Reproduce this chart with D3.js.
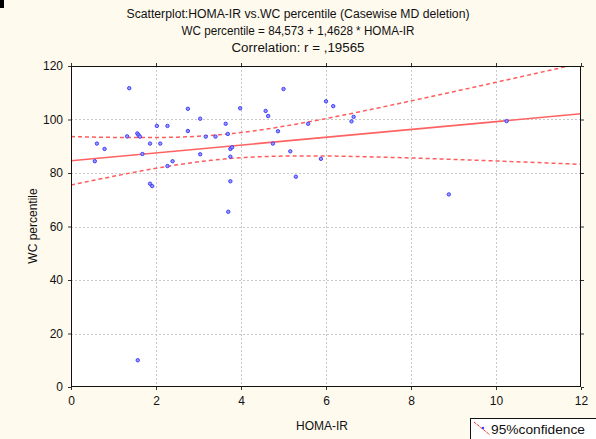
<!DOCTYPE html>
<html><head><meta charset="utf-8">
<script src="https://cdn.jsdelivr.net/npm/d3@7"></script>
<style>
body{margin:0;background:#fffaee;}
svg{display:block;font-family:"Liberation Sans",Arial,sans-serif;}
</style></head>
<body>
<svg id="c" width="596" height="439"></svg>
<script>
// ---- data ----
const homaIR = [1.37,2.02,2.27,1.32,1.56,1.59,1.62,0.61,0.79,1.86,2.10,0.56,1.68,2.27,1.86,1.91,
  2.75,2.75,3.04,3.17,3.40,3.64,3.69,3.75,3.79,3.75,3.98,3.04,2.39,4.58,4.64,3.75,4.75,5.00,
  6.00,6.17,6.60,6.65,5.58,4.87,5.16,5.88,5.29,10.25,8.89,1.57,3.70];
const wcPercentile = [111.7,97.6,97.6,93.7,94.8,94.2,93.6,91.0,89.0,91.0,91.0,84.4,87.1,82.6,76.0,75.1,
  104.0,95.7,100.3,93.6,93.6,98.4,94.6,89.0,89.6,86.1,104.2,87.0,84.4,103.2,101.3,76.9,91.0,111.4,
  106.8,105.0,99.3,101.0,98.4,95.6,88.1,85.3,78.6,99.4,72.0,10.0,65.5];
const xTicks = [0,2,4,6,8,10,12];
const yTicks = [0,20,40,60,80,100,120];
const titleLines = ["Scatterplot:HOMA-IR vs.WC percentile (Casewise MD deletion)",
  "WC percentile = 84,573 + 1,4628 * HOMA-IR",
  "Correlation: r = ,19565"];
const intercept = 84.573, slope = 1.4628;
// 95% confidence band half-width parameters: hw^2 = bandA + bandB*(x-bandM)^2
const bandA = 21.3, bandB = 4.73, bandM = 3.58;
const bandX = d3.range(0, 12.0001, 0.1);

// ---- layout ----
const svg = d3.select("#c");
const L = 71, R = 581, T = 66, B = 387;
const x = d3.scaleLinear().domain([0,12]).range([L,R]);
const y = d3.scaleLinear().domain([0,120]).range([B,T]);

svg.append("rect").attr("x",0).attr("y",0).attr("width",4).attr("height",8).attr("fill","#000");

// titles
const tw = [343, 233, 133];
titleLines.forEach((t,i)=>{
  svg.append("text").attr("x",298).attr("y",18+i*17).attr("text-anchor","middle")
    .attr("font-size",12).attr("fill","#111").attr("textLength",tw[i]).attr("lengthAdjust","spacingAndGlyphs").text(t);
});

// plot background
svg.append("rect").attr("x",L).attr("y",T).attr("width",R-L).attr("height",B-T).attr("fill","#fff");

// grid
const g = svg.append("g");
g.selectAll(".gx").data(xTicks.slice(1,-1)).join("line")
  .attr("x1",d=>x(d)+0.5).attr("x2",d=>x(d)+0.5).attr("y1",T).attr("y2",B)
  .attr("stroke","#c8c8c8").attr("stroke-dasharray","2,2");
g.selectAll(".gy").data(yTicks.slice(1,-1)).join("line")
  .attr("y1",d=>Math.round(y(d))+0.5).attr("y2",d=>Math.round(y(d))+0.5).attr("x1",L).attr("x2",R)
  .attr("stroke","#c8c8c8").attr("stroke-dasharray","2,2");

// axes with ticks on all four sides
const ax = (gen, tr) => svg.append("g").attr("transform",tr).call(gen)
  .call(s=>{s.select(".domain").remove(); s.selectAll("text").attr("font-size",12).attr("fill","#111").attr("font-family","Liberation Sans, Arial");
    s.selectAll("line").attr("stroke","#333");});
ax(d3.axisBottom(x).tickValues(xTicks).tickSize(3).tickPadding(6).tickFormat(d3.format("d")), `translate(0,${B})`);
ax(d3.axisLeft(y).tickValues(yTicks).tickSize(3).tickPadding(5).tickFormat(d3.format("d")), `translate(${L},0)`);
ax(d3.axisTop(x).tickValues(xTicks).tickSize(3).tickFormat(""), `translate(0,${T})`);
ax(d3.axisRight(y).tickValues(yTicks).tickSize(3).tickFormat(""), `translate(${R},0)`);

// clip
svg.append("clipPath").attr("id","clp").append("rect").attr("x",L).attr("y",T).attr("width",R-L).attr("height",B-T);
const pl = svg.append("g").attr("clip-path","url(#clp)");

const fit = v => intercept + slope*v;
const hw = v => Math.sqrt(bandA + bandB*(v-bandM)*(v-bandM));
const ln = fn => d3.line().x(d=>x(d)).y(d=>y(fn(d)));
pl.append("path").attr("d",ln(v=>fit(v)+hw(v))(bandX)).attr("fill","none").attr("stroke","#ff5c5c").attr("stroke-width",1.5).attr("stroke-dasharray","4,3");
pl.append("path").attr("d",ln(v=>fit(v)-hw(v))(bandX)).attr("fill","none").attr("stroke","#ff5c5c").attr("stroke-width",1.5).attr("stroke-dasharray","4,3");
pl.append("path").attr("d",ln(fit)([0,12])).attr("fill","none").attr("stroke","#ff6262").attr("stroke-width",1.6);

// points
pl.selectAll("circle").data(homaIR.map((h,i)=>[h,wcPercentile[i]])).join("circle")
  .attr("cx",d=>x(d[0])).attr("cy",d=>y(d[1])).attr("r",1.7)
  .attr("fill","#9a9aff").attr("stroke","#3030ff").attr("stroke-width",0.9);

// frame
svg.append("rect").attr("x",L+0.5).attr("y",T+0.5).attr("width",R-L-1).attr("height",B-T-1)
  .attr("fill","none").attr("stroke","#111");

// axis titles
svg.append("text").attr("x",322).attr("y",430).attr("text-anchor","middle").attr("font-size",12).attr("fill","#111").text("HOMA-IR");
svg.append("text").attr("transform","translate(37,226) rotate(-90)").attr("text-anchor","middle").attr("font-size",12).attr("fill","#111").text("WC percentile");

// legend
const lg = svg.append("g");
lg.append("rect").attr("x",470.5).attr("y",418.5).attr("width",130).attr("height",24).attr("fill","#fff").attr("stroke","#111");
lg.append("line").attr("x1",474).attr("y1",422).attr("x2",490).attr("y2",435).attr("stroke","#ff3030").attr("stroke-width",1).attr("stroke-dasharray","3,1");
lg.append("circle").attr("cx",483).attr("cy",428).attr("r",1.2).attr("fill","#3a3aff");
lg.append("text").attr("x",491).attr("y",434).attr("font-size",13).attr("fill","#111").attr("textLength",94).attr("lengthAdjust","spacingAndGlyphs").text("95%confidence");
</script>
</body></html>
